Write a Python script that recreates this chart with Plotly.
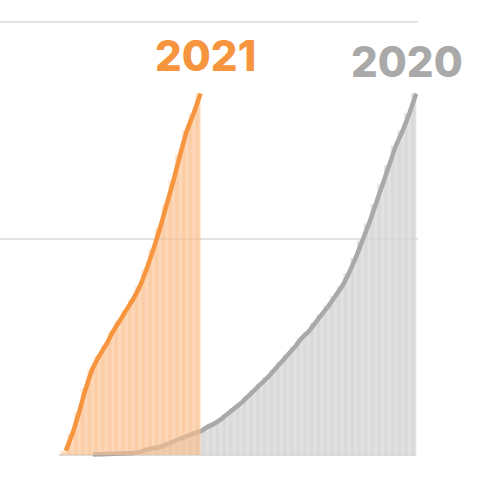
"""
Cumulative weekly totals, 2021 vs 2020
"""

import plotly.graph_objects as go

########## Data ##########
WEEKS_2020 = list(range(4, 53))
VALUES_2020 = [0.3, 0.4, 0.5, 0.6, 0.7, 0.8, 1.0, 1.4, 2.5, 3.2,
               3.8, 5.0, 6.3, 7.6, 8.8, 10.0, 11.0, 13.0, 14.5, 16.5,
               19.0, 21.5, 24.0, 27.0, 30.0, 33.0, 36.0, 39.5, 43.0, 46.5,
               50.0, 54.0, 57.0, 61.0, 65.0, 69.0, 73.5, 78.0, 84.0, 91.0,
               99.0, 107.0, 116.0, 125.0, 134.0, 143.0, 150.0, 158.0, 167.0]

WEEKS_2021 = list(range(0, 21))
VALUES_2021 = [2, 10, 20, 31, 40, 46, 51, 57, 62, 67,
               72, 78, 86, 95, 105, 116, 127, 139, 150, 158, 167]

GRID_VALUES = [100, 200]
##########################

ORANGE = "#f7953e"
GRAY = "#a9a9a9"


def add_series(fig, weeks, values, line_color, fill_color, bar_color):
    # light fill under the line, starting at the left edge of the first bar
    edges = [weeks[0] - 0.5] + [w + 0.5 for w in weeks]
    fig.add_trace(go.Scatter(
        x=edges, y=[0] + values, mode="lines", fill="tozeroy",
        line=dict(width=0, color=fill_color, shape="spline", smoothing=0.6),
        fillcolor=fill_color, hoverinfo="skip"))
    # weekly bars give the striped look
    fig.add_trace(go.Bar(
        x=weeks, y=values, width=0.55, marker=dict(color=bar_color, line_width=0),
        hoverinfo="skip"))
    # line through the right edge of each bar
    fig.add_trace(go.Scatter(
        x=[w + 0.5 for w in weeks], y=values, mode="lines",
        line=dict(width=4.5, color=line_color, shape="spline", smoothing=0.6)))


fig = go.Figure()
add_series(fig, WEEKS_2020, VALUES_2020, GRAY,
           "rgba(215,215,215,0.75)", "rgba(200,200,200,0.5)")
add_series(fig, WEEKS_2021, VALUES_2021, ORANGE,
           "rgba(250,190,140,0.62)", "rgba(247,160,90,0.25)")

# baseline only under the data
fig.add_shape(type="line", x0=-0.5, x1=52.5, y0=0, y1=0,
              line=dict(color="#dddddd", width=2), layer="below")

fig.add_annotation(x=21.2, y=184.5, text="2021", showarrow=False,
                   font=dict(family="Inter", size=42, weight=800, color=ORANGE))
fig.add_annotation(x=51.1, y=182, text="2020", showarrow=False,
                   font=dict(family="Inter", size=42, weight=800, color=GRAY))

fig.update_layout(
    width=480, height=480,
    margin=dict(l=0, r=62, t=0, b=0),
    paper_bgcolor="white", plot_bgcolor="white",
    barmode="overlay", showlegend=False,
    xaxis=dict(range=[-9.25, 52.76], showgrid=False, zeroline=False,
               showticklabels=False, fixedrange=True),
    yaxis=dict(range=[-11.5, 210.2], tickvals=GRID_VALUES, showgrid=True,
               gridcolor="#e3e3e3", gridwidth=1.5, zeroline=False,
               showticklabels=False, fixedrange=True),
)

# drop the page margin so the figure sits at the window corner
fig.write_html("out.html", config={"displayModeBar": False},
               post_script="document.body.style.margin='0';")
